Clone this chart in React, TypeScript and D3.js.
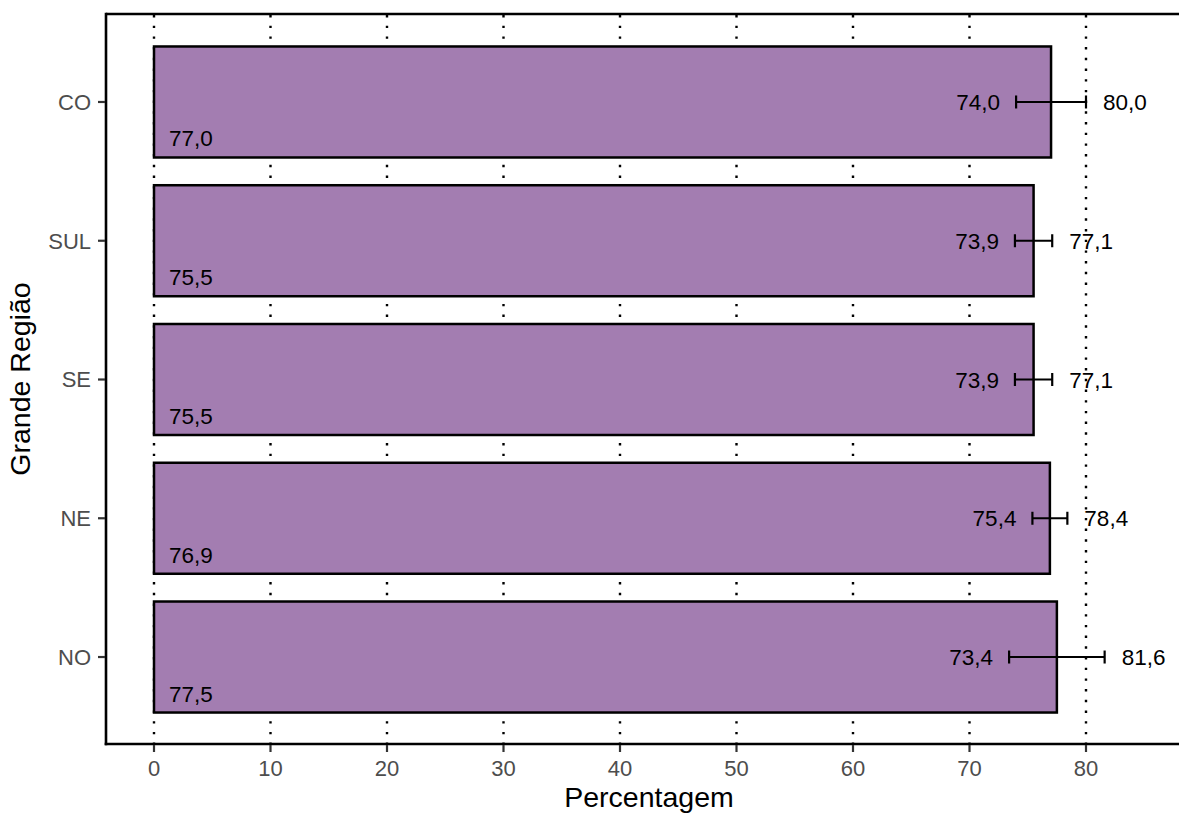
import React from "react";
import * as d3 from "d3";

const regions = ["CO", "SUL", "SE", "NE", "NO"];
const values = [77.0, 75.5, 75.5, 76.9, 77.5];
const lower = [74.0, 73.9, 73.9, 75.4, 73.4];
const upper = [80.0, 77.1, 77.1, 78.4, 81.6];
const xTicks = [0, 10, 20, 30, 40, 50, 60, 70, 80];

const W = 1179;
const H = 814;
const panelLeft = 106;
const panelTop = 14;
const panelBottom = 744;
const fmt = (v: number) => v.toFixed(1).replace(".", ",");

export default function App() {
  const x = d3.scaleLinear().domain([0, 80]).range([154, 1086]);
  const y = d3
    .scaleBand<string>()
    .domain(regions)
    .range([32.6, 726.4])
    .paddingInner(0.2)
    .paddingOuter(0.1);
  const font = "'Liberation Sans', Arial, Helvetica, sans-serif";
  const bw = y.bandwidth();

  return (
    <svg
      width={W}
      height={H}
      style={{ position: "absolute", left: 0, top: 0, background: "#fff" }}
      fontFamily={font}
    >
      <rect x={0} y={0} width={W} height={H} fill="#fff" />
      {/* gridlines */}
      {xTicks.map((t) => (
        <line
          key={"g" + t}
          x1={x(t)}
          x2={x(t)}
          y1={panelTop + 1}
          y2={panelBottom}
          stroke="#000"
          strokeWidth={2.4}
          strokeDasharray="2.4 8.3"
        />
      ))}
      {/* bars */}
      {regions.map((r, i) => {
        const y0 = y(r)!;
        return (
          <rect
            key={"b" + r}
            x={x(0)}
            y={y0}
            width={x(values[i]) - x(0)}
            height={bw}
            fill="#A37DB1"
            stroke="#000"
            strokeWidth={2.5}
          />
        );
      })}
      {/* error bars and labels */}
      {regions.map((r, i) => {
        const cy = y(r)! + bw / 2;
        const xl = x(lower[i]);
        const xu = x(upper[i]);
        return (
          <g key={"e" + r}>
            <line x1={xl} x2={xu} y1={cy} y2={cy} stroke="#000" strokeWidth={2.2} />
            <line x1={xl} x2={xl} y1={cy - 6.5} y2={cy + 6.5} stroke="#000" strokeWidth={2.2} />
            <line x1={xu} x2={xu} y1={cy - 6.5} y2={cy + 6.5} stroke="#000" strokeWidth={2.2} />
            <text x={xl - 16} y={cy} dy="0.36em" textAnchor="end" fontSize={22.5} fill="#000">
              {fmt(lower[i])}
            </text>
            <text x={xu + 17} y={cy} dy="0.36em" textAnchor="start" fontSize={22.5} fill="#000">
              {fmt(upper[i])}
            </text>
            <text x={169} y={y(r)! + bw - 11} textAnchor="start" fontSize={22.5} fill="#000">
              {fmt(values[i])}
            </text>
          </g>
        );
      })}
      {/* panel lines */}
      <line x1={panelLeft} x2={W + 5} y1={panelTop} y2={panelTop} stroke="#000" strokeWidth={2.6} />
      <line x1={panelLeft} x2={panelLeft} y1={panelTop - 1.3} y2={panelBottom + 1.3} stroke="#000" strokeWidth={2.6} />
      <line x1={panelLeft - 1.3} x2={W + 5} y1={panelBottom} y2={panelBottom} stroke="#000" strokeWidth={2.6} />
      {/* x ticks */}
      {xTicks.map((t) => (
        <g key={"xt" + t}>
          <line x1={x(t)} x2={x(t)} y1={panelBottom + 1} y2={panelBottom + 8} stroke="#333" strokeWidth={2.2} />
          <text x={x(t)} y={768} dy="0.36em" textAnchor="middle" fontSize={22} fill="#4D4D4D">
            {t}
          </text>
        </g>
      ))}
      {/* y ticks */}
      {regions.map((r) => {
        const cy = y(r)! + bw / 2;
        return (
          <g key={"yt" + r}>
            <line x1={panelLeft - 8} x2={panelLeft - 1} y1={cy} y2={cy} stroke="#333" strokeWidth={2.2} />
            <text x={91} y={cy} dy="0.36em" textAnchor="end" fontSize={22} fill="#4D4D4D">
              {r}
            </text>
          </g>
        );
      })}
      {/* axis titles */}
      <text x={649} y={807} textAnchor="middle" fontSize={28.5} fill="#000">
        Percentagem
      </text>
      <text
        transform={`translate(30, ${(panelTop + panelBottom) / 2}) rotate(-90)`}
        textAnchor="middle"
        fontSize={28.5}
        fill="#000"
      >
        Grande Região
      </text>
    </svg>
  );
}
